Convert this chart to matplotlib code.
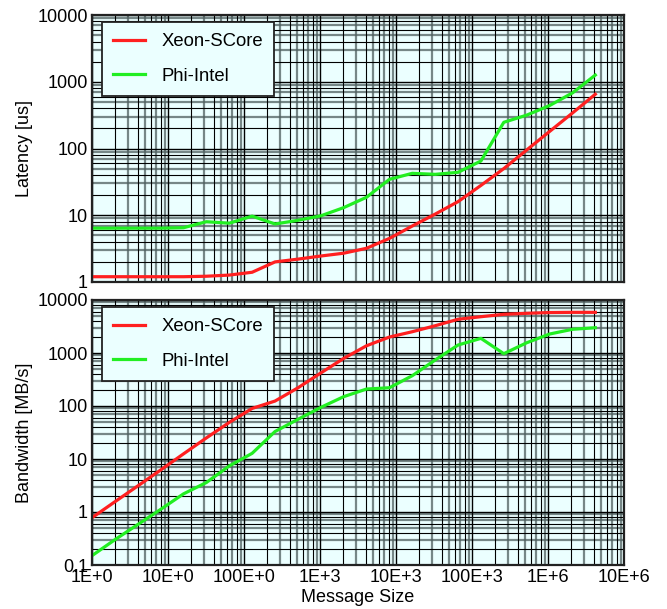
import numpy as np
import matplotlib
matplotlib.use('Agg')
import matplotlib.pyplot as plt
from matplotlib.ticker import LogLocator, FuncFormatter, NullFormatter

plt.rcParams['font.family'] = ['Liberation Sans', 'DejaVu Sans']

# message sizes in bytes
sizes = [1, 2, 4, 8, 16, 32, 64, 128, 256, 512, 1024, 2048, 4096, 8192,
         16384, 32768, 65536, 131072, 262144, 524288, 1048576, 2097152, 4194304]

# latency [us]
lat_xeon = [1.2, 1.2, 1.2, 1.2, 1.2, 1.22, 1.27, 1.4, 2.0, 2.2, 2.45, 2.7,
            3.2, 4.5, 6.9, 10.4, 16, 28, 50, 95, 180, 340, 650]
lat_phi = [6.4, 6.4, 6.4, 6.4, 6.5, 8.0, 7.6, 9.7, 7.4, 8.4, 9.8, 13,
           18.6, 34.5, 42.5, 41, 44, 65, 247, 316, 440, 680, 1260]

# bandwidth [MB/s]
bw_xeon = [0.78, 1.56, 3.1, 6.2, 12.5, 25, 49, 90, 124, 220, 420, 790,
           1370, 2000, 2520, 3270, 4330, 4840, 5370, 5610, 5800, 5850, 5850]
bw_phi = [0.15, 0.30, 0.58, 1.12, 2.2, 3.6, 7.4, 12.8, 33, 56, 94, 150,
          209, 221, 373, 738, 1413, 1890, 970, 1560, 2280, 2800, 3000]

labels = ['Xeon-SCore', 'Phi-Intel']
RED = '#ff2020'
GREEN = '#22ee22'
BG = '#ebffff'


def eng_label(v, pos):
    e = int(np.floor(np.log10(v) + 1e-9))
    e3 = (e // 3) * 3
    m = int(round(v / 10 ** e3))
    return '%dE+%d' % (m, e3)


def style_axis(ax, ylo, yhi):
    ax.set_xscale('log')
    ax.set_yscale('log')
    ax.set_xlim(1, 1e7)
    ax.set_ylim(ylo, yhi)
    ax.set_facecolor(BG)
    for axis in (ax.xaxis, ax.yaxis):
        axis.set_major_locator(LogLocator(base=10, numticks=20))
        axis.set_minor_locator(LogLocator(base=10, subs=(2, 4, 6, 8), numticks=20))
        axis.set_minor_formatter(NullFormatter())
    ax.grid(which='major', color='black', lw=1.0, zorder=0)
    ax.grid(which='minor', color='black', lw=0.8, zorder=0)
    # second set of grey grid lines at odd sub-decades
    for d in range(0, 7):
        for s in (3, 5, 7, 9):
            ax.axvline(s * 10 ** d, color='#4f5f5f', alpha=0.75, lw=1.6, zorder=0.5)
    lo = int(np.floor(np.log10(ylo)))
    hi = int(np.ceil(np.log10(yhi)))
    for d in range(lo, hi):
        for s in (3, 5, 7, 9):
            ax.axhline(s * 10.0 ** d, color='#4f5f5f', alpha=0.75, lw=1.6, zorder=0.5)
    ax.set_axisbelow(True)
    ax.tick_params(which='both', length=0, labelsize=13, pad=3)
    ax.yaxis.set_major_formatter(FuncFormatter(lambda v, p: '%g' % v))
    for sp in ax.spines.values():
        sp.set_linewidth(1.6)
        sp.set_color('#222222')
        sp.set_zorder(3)


fig = plt.figure(figsize=(6.67, 6.09), dpi=100)
ax1 = fig.add_axes([92 / 667, 1 - 282 / 609, 532 / 667, 267 / 609])
ax2 = fig.add_axes([92 / 667, 1 - 565 / 609, 532 / 667, 265 / 609])

style_axis(ax1, 1, 10000)
style_axis(ax2, 0.1, 10000)

ax1.plot(sizes, lat_xeon, color=RED, lw=2.3, label=labels[0], zorder=2)
ax1.plot(sizes, lat_phi, color=GREEN, lw=2.3, label=labels[1], zorder=2)
ax2.plot(sizes, bw_xeon, color=RED, lw=2.3, label=labels[0], zorder=2)
ax2.plot(sizes, bw_phi, color=GREEN, lw=2.3, label=labels[1], zorder=2)

ax1.xaxis.set_major_formatter(NullFormatter())
ax2.xaxis.set_major_formatter(FuncFormatter(eng_label))

for ax in (ax1, ax2):
    leg = ax.legend(loc='upper left', bbox_to_anchor=(10 / 532, 1 - 7 / 266),
                    borderaxespad=0, fontsize=13.3, fancybox=False,
                    facecolor=BG, edgecolor='#222222', framealpha=1,
                    handlelength=1.75, handletextpad=0.85, borderpad=0.6,
                    labelspacing=0.95)
    leg.get_frame().set_linewidth(1.3)
    leg.set_zorder(5)

ax1.set_ylabel('Latency [us]', fontsize=13)
ax1.yaxis.set_label_coords(-0.11, 0.5)
ax2.set_ylabel('Bandwidth [MB/s]', fontsize=13)
ax2.yaxis.set_label_coords(-0.11, 0.5)
ax2.set_xlabel('Message Size', fontsize=13)
ax2.xaxis.set_label_coords(0.5, -0.092)

fig.savefig('out.png', dpi=100)
